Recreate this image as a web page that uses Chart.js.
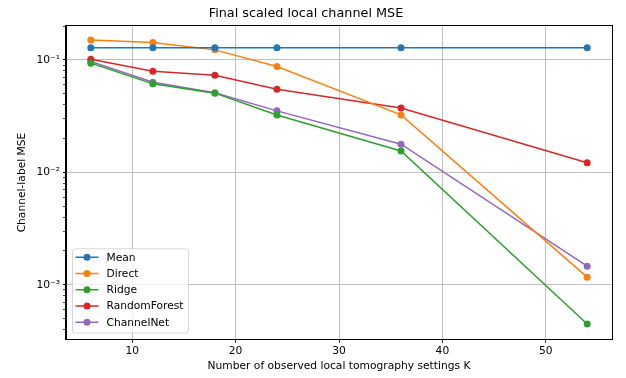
<!DOCTYPE html>
<html>
<head>
<meta charset="utf-8">
<script src="https://cdn.jsdelivr.net/npm/chart.js@4/dist/chart.umd.min.js"></script>
<style>
  html, body { margin: 0; padding: 0; background: #fff; }
  #wrap { width: 626px; height: 378px; }
</style>
</head>
<body>
<div id="wrap"><canvas id="mseChart"></canvas></div>
<script>
const kValues = [6, 12, 18, 24, 36, 54];
const meanMse = [0.128, 0.128, 0.128, 0.128, 0.128, 0.128];
const directMse = [0.1505, 0.1425, 0.1227, 0.0872, 0.0324, 0.00117];
const ridgeMse = [0.0935, 0.0612, 0.0506, 0.0324, 0.0155, 0.000448];
const forestMse = [0.1014, 0.0794, 0.0731, 0.0549, 0.0374, 0.01215];
const channelNetMse = [0.0966, 0.0633, 0.0510, 0.0352, 0.0178, 0.001466];

const seriesNames = ['Mean', 'Direct', 'Ridge', 'RandomForest', 'ChannelNet'];
const seriesColors = ['#1f77b4', '#ff7f0e', '#2ca02c', '#d62728', '#9467bd'];

const xTicks = [10, 20, 30, 40, 50];
const yMajorTicks = [0.001, 0.01, 0.1];
const yTickLabels = ['10⁻³', '10⁻²', '10⁻¹'];

const FONT = "'DejaVu Sans', sans-serif";
const SMALL = 10.7;

// minor ticks 2..9 x 10^k inside the axis range
const yMin = 3.3e-4, yMax = 0.2;
const yMinorTicks = [];
for (let e = -4; e <= -1; e++) {
    for (let m = 2; m <= 9; m++) {
        const v = m * Math.pow(10, e);
        if (v >= yMin && v <= yMax) yMinorTicks.push(v);
    }
}

const series = [meanMse, directMse, ridgeMse, forestMse, channelNetMse];
const datasets = series.map((vals, i) => ({
    label: seriesNames[i],
    data: vals.map((v, j) => ({ x: kValues[j], y: v })),
    borderColor: seriesColors[i],
    backgroundColor: seriesColors[i],
    pointBackgroundColor: seriesColors[i],
    pointBorderWidth: 0,
    pointRadius: 3.5,
    borderWidth: 1.5,
    tension: 0
}));

// top/right spines + legend drawn inside the axes (lower left)
const framePlugin = {
    id: 'frame',
    afterDatasetsDraw(chart) {
        const { ctx, chartArea: a } = chart;
        ctx.save();
        ctx.strokeStyle = '#000';
        ctx.lineWidth = 1;
        ctx.strokeRect(Math.round(a.left) - 0.5, Math.round(a.top) - 0.5,
            Math.round(a.right - a.left) + 1, Math.round(a.bottom - a.top) + 1);

        ctx.font = SMALL + 'px ' + FONT;
        const rowH = 16.25;
        let tw = 0;
        seriesNames.forEach(n => { tw = Math.max(tw, ctx.measureText(n).width); });
        const bx = a.left + 6.5, bw = 34 + tw + 5;
        const bh = rowH * seriesNames.length + 3;
        const by = a.bottom - 6 - bh;
        ctx.beginPath();
        ctx.roundRect(bx, by, bw, bh, 3);
        ctx.fillStyle = 'rgba(255,255,255,0.8)';
        ctx.fill();
        ctx.strokeStyle = '#d6d6d6';
        ctx.lineWidth = 1;
        ctx.stroke();
        seriesNames.forEach((n, i) => {
            const y = by + 8.5 + i * rowH;
            ctx.strokeStyle = seriesColors[i];
            ctx.lineWidth = 1.5;
            ctx.beginPath();
            ctx.moveTo(bx + 3, y);
            ctx.lineTo(bx + 26, y);
            ctx.stroke();
            ctx.fillStyle = seriesColors[i];
            ctx.beginPath();
            ctx.arc(bx + 14.5, y, 3.5, 0, Math.PI * 2);
            ctx.fill();
            ctx.fillStyle = '#000';
            ctx.textBaseline = 'middle';
            ctx.textAlign = 'left';
            ctx.fillText(n, bx + 34, y + 0.5);
        });
        ctx.restore();
    }
};

const ctx = document.getElementById('mseChart').getContext('2d');
new Chart(ctx, {
    type: 'line',
    data: { datasets: datasets },
    options: {
        responsive: true,
        maintainAspectRatio: false,
        animation: false,
        layout: { padding: { left: 0, right: 14, top: 0, bottom: 0 } },
        plugins: {
            legend: { display: false },
            tooltip: { enabled: false },
            title: {
                display: true,
                text: 'Final scaled local channel MSE',
                color: '#000',
                font: { family: FONT, size: 12.8, weight: 'normal' },
                padding: { top: 6.3, bottom: 4.34 }
            }
        },
        scales: {
            x: {
                type: 'linear',
                min: 3.6,
                max: 56.4,
                bounds: 'data',
                afterBuildTicks: scale => { scale.ticks = xTicks.map(v => ({ value: v })); },
                afterFit: scale => { scale.height = 39; },
                ticks: {
                    color: '#000',
                    font: { family: FONT, size: SMALL },
                    padding: 2,
                    autoSkip: false,
                    maxRotation: 0
                },
                grid: {
                    color: '#b0b0b0',
                    lineWidth: 0.8,
                    tickColor: '#000',
                    tickLength: 4
                },
                border: { display: true, color: '#000', width: 1 },
                title: {
                    display: true,
                    text: 'Number of observed local tomography settings K',
                    color: '#000',
                    font: { family: FONT, size: SMALL },
                    padding: { top: 0, bottom: 5.5 }
                }
            },
            y: {
                type: 'logarithmic',
                min: yMin,
                max: yMax,
                bounds: 'data',
                afterBuildTicks: scale => {
                    scale.ticks = yMajorTicks.concat(yMinorTicks).sort((p, q) => p - q).map(v => ({ value: v }));
                },
                afterFit: scale => { scale.width = 66; },
                ticks: {
                    color: '#000',
                    font: { family: FONT, size: SMALL },
                    padding: 3,
                    autoSkip: false,
                    callback: value => {
                        const i = yMajorTicks.indexOf(value);
                        return i >= 0 ? yTickLabels[i] : '';
                    }
                },
                grid: {
                    color: c => yMajorTicks.includes(c.tick.value) ? '#b0b0b0' : 'rgba(0,0,0,0)',
                    lineWidth: 0.8,
                    tickColor: '#000',
                    tickWidth: c => yMajorTicks.includes(c.tick.value) ? 1 : 0.7,
                    tickLength: 3
                },
                border: { display: true, color: '#000', width: 1 },
                title: {
                    display: true,
                    text: 'Channel-label MSE',
                    color: '#000',
                    font: { family: FONT, size: SMALL },
                    padding: { top: 15.5, bottom: 0 }
                }
            }
        }
    },
    plugins: [framePlugin]
});
</script>
</body>
</html>
